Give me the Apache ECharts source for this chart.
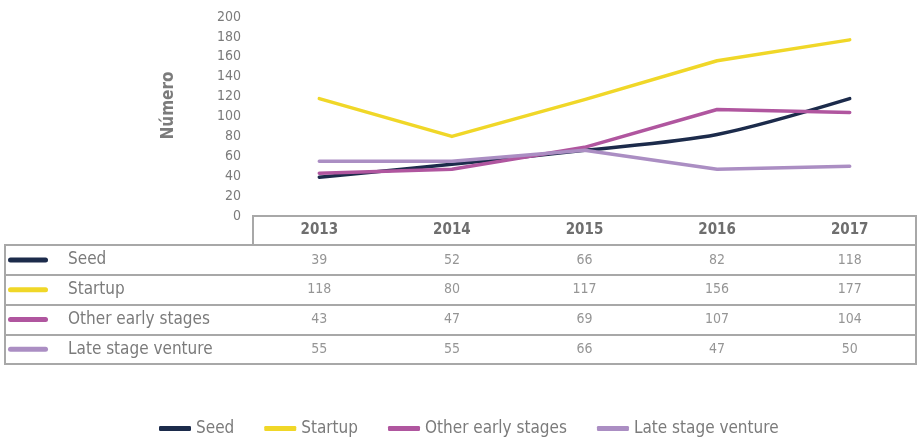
<!DOCTYPE html>
<html>
<head>
<meta charset="utf-8">
<script src="https://cdn.jsdelivr.net/npm/echarts@6/dist/echarts.min.js"></script>
<style>html,body{margin:0;padding:0;background:#fff}#c{width:918px;height:440px}</style>
</head>
<body>
<div id="c"></div>
<script>
var years = ['2013', '2014', '2015', '2016', '2017'];
var seriesNames = ['Seed', 'Startup', 'Other early stages', 'Late stage venture'];
var seed = [39, 52, 66, 82, 118];
var startup = [118, 80, 117, 156, 177];
var otherEarly = [43, 47, 69, 107, 104];
var lateStage = [55, 55, 66, 47, 50];
var yTicks = { min: 0, max: 200, interval: 20 };
var yName = 'Número';

var values = [seed, startup, otherEarly, lateStage];
var colors = ['#1c2b4b', '#f0d728', '#b0569f', '#ab8ec3'];
var FONT = "'Liberation Sans Narrow', 'DejaVu Sans Condensed', 'Roboto', sans-serif";
var GRAY = '#7b7b7b';
var LINE = '#a8a8a8';

var tableData = [];
values.forEach(function (arr, r) {
  arr.forEach(function (v, c) { tableData.push([c, r, v]); });
});

var rich = { t: { fontFamily: FONT, fontSize: 17, color: GRAY, padding: [0, 0, 0, 20] } };
seriesNames.forEach(function (n, i) {
  rich['s' + i] = { width: 40, height: 5, backgroundColor: colors[i], borderRadius: 3 };
});

var lineSeries = seriesNames.map(function (n, i) {
  return {
    name: n, type: 'line', xAxisIndex: 0, yAxisIndex: 0,
    data: values[i], symbol: 'none', smooth: i === 0 ? 0.3 : false,
    lineStyle: { width: 3.5, color: colors[i], cap: 'round', join: 'round' },
    itemStyle: { color: colors[i] }, z: 3 + i
  };
});

var option = {
  animation: false,
  textStyle: { fontFamily: FONT },
  legend: {
    data: seriesNames, left: 154, top: 415, icon: 'roundRect',
    itemWidth: 32, itemHeight: 5, itemGap: 30,
    textStyle: { fontFamily: FONT, fontSize: 17, color: GRAY }
  },
  grid: [
    { left: 253, right: 2, top: 17, height: 199, show: false },
    { left: 253, right: 2, top: 245, height: 119, show: false },
    { left: 5, right: 2, top: 245, height: 119, show: true, borderColor: LINE, borderWidth: 2, backgroundColor: 'transparent' },
    { left: 253, right: 2, top: 216, height: 29, show: true, borderColor: LINE, borderWidth: 2, backgroundColor: 'transparent' }
  ],
  xAxis: [
    { type: 'category', gridIndex: 0, data: years, boundaryGap: true,
      axisLine: { show: false }, axisTick: { show: false },
      axisLabel: { margin: 7, fontFamily: FONT, fontSize: 15, fontWeight: 'bold', color: '#6e6e6e' } },
    { type: 'category', gridIndex: 1, data: years, boundaryGap: true, show: false },
    { type: 'value', gridIndex: 2, show: false },
    { type: 'value', gridIndex: 3, show: false }
  ],
  yAxis: [
    { type: 'value', gridIndex: 0, min: yTicks.min, max: yTicks.max, interval: yTicks.interval,
      name: yName, nameLocation: 'middle', nameGap: 76,
      nameTextStyle: { fontFamily: FONT, fontSize: 17, fontWeight: 'bold', color: GRAY, padding: [0, 0, 0, 22] },
      axisLine: { show: false }, axisTick: { show: false }, splitLine: { show: false },
      axisLabel: { margin: 12, fontFamily: FONT, fontSize: 14, color: GRAY } },
    { type: 'category', gridIndex: 1, data: seriesNames, inverse: true, boundaryGap: true,
      axisLine: { show: false }, axisTick: { show: false },
      splitLine: { show: false },
      axisLabel: {
        align: 'left', margin: 245,
        formatter: function (v, i) { return '{s' + i + '|}{t|' + v + '}'; },
        rich: rich
      } },
    { type: 'category', gridIndex: 2, data: seriesNames, inverse: true, boundaryGap: true,
      axisLine: { show: false }, axisTick: { show: false }, axisLabel: { show: false },
      splitLine: { show: true, lineStyle: { color: LINE, width: 2 } } },
    { type: 'value', gridIndex: 3, show: false }
  ],
  series: lineSeries.concat([{
    name: 'table', type: 'scatter', xAxisIndex: 1, yAxisIndex: 1,
    data: tableData, symbolSize: 1, itemStyle: { color: 'rgba(0,0,0,0)' },
    label: { show: true, position: 'inside', formatter: function (p) { return p.value[2]; },
      fontFamily: FONT, fontSize: 14, color: GRAY },
    silent: true
  }])
};

echarts.init(document.getElementById('c')).setOption(option);
</script>
</body>
</html>
